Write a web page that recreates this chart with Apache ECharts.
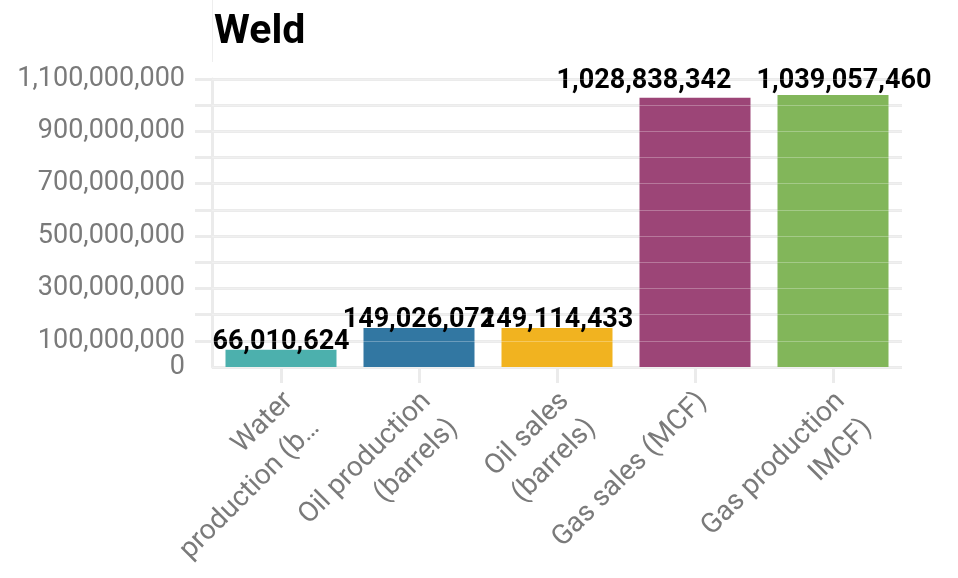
<!DOCTYPE html>
<html>
<head>
<meta charset="utf-8">
<script src="https://cdn.jsdelivr.net/npm/echarts@6/dist/echarts.min.js"></script>
<style>
html,body{margin:0;padding:0;background:#fff;}
#main{width:958px;height:578px;}
</style>
</head>
<body>
<div id="main"></div>
<script>
const title = 'Weld';
const categories = ['Water\nproduction (b…', 'Oil production\n(barrels)', 'Oil sales\n(barrels)', 'Gas sales (MCF)', 'Gas production\nIMCF)'];
const values = [66010624, 149026072, 149114433, 1028838342, 1039057460];
const palette = ['#4cb0ad', '#3277a2', '#f1b320', '#9c4577', '#82b65a'];
const yMin = 0, yMax = 1100000000, yStep = 100000000;

const FONT = 'Roboto';
const fmt = v => Math.round(v).toLocaleString('en-US');
// label nudges (as in the reference, where top labels were moved to avoid collisions)
const labelNudges = [[0, 0], [0, 0], [0, 0], [-51, -9], [11, -6]];

const yLabelStyle = {
  margin: 27,
  fontFamily: FONT,
  fontSize: 27,
  color: '#7a7a7a'
};

const chart = echarts.init(document.getElementById('main'), null, {renderer: 'canvas'});
chart.setOption({
  animation: false,
  backgroundColor: '#fff',
  title: {
    text: title,
    left: 209,
    top: 7,
    textStyle: {fontFamily: FONT, fontWeight: 'bold', fontSize: 41, color: '#000'}
  },
  graphic: [{
    type: 'line',
    shape: {x1: 212.5, y1: 0, x2: 212.5, y2: 62},
    style: {stroke: '#eeeeee', lineWidth: 1},
    silent: true
  }],
  grid: {left: 212, right: 56, top: 79, bottom: 211, containLabel: false, outerBoundsMode: 'none'},
  xAxis: {
    type: 'category',
    data: categories,
    axisLine: {show: false},
    axisTick: {show: true, alignWithLabel: true, length: 16, lineStyle: {color: '#ebebeb', width: 3}},
    axisLabel: {
      rotate: 45,
      interval: 0,
      margin: 11,
      align: 'right',
      verticalAlign: 'top',
      padding: [0, 8, 0, 0],
      fontFamily: FONT,
      fontSize: 28,
      lineHeight: 38,
      color: '#7a7a7a'
    }
  },
  yAxis: [{
    type: 'value',
    min: yMin, max: yMax, interval: yStep,
    axisLine: {show: true, lineStyle: {color: '#ebebeb', width: 3}},
    axisTick: {show: true, length: 17, lineStyle: {color: '#ebebeb', width: 3}},
    splitLine: {show: true, lineStyle: {color: '#ebebeb', width: 3}},
    axisLabel: Object.assign({}, yLabelStyle, {
      showMinLabel: false,
      formatter: v => (v !== 0 && Math.round(v / yStep) % 2 === 1) ? fmt(v) : ''
    })
  }, {
    type: 'value',
    min: yMin, max: yMax, interval: yStep,
    position: 'left',
    z: 5,
    axisLine: {show: false},
    axisTick: {show: false},
    axisLabel: {show: false},
    splitLine: {show: true, lineStyle: {color: 'rgba(255,255,255,0.28)', width: 1}}
  }, {
    type: 'value',
    min: yMin, max: yMax, interval: yStep,
    position: 'left',
    axisLine: {show: false},
    axisTick: {show: false},
    splitLine: {show: false},
    axisLabel: Object.assign({}, yLabelStyle, {
      showMinLabel: true,
      showMaxLabel: false,
      formatter: v => (v === 0 ? fmt(v) : '')
    })
  }],
  series: [{
    type: 'bar',
    yAxisIndex: 0,
    barWidth: 111,
    data: values.map((v, i) => ({value: v, itemStyle: {color: palette[i]}})),
    label: {
      show: true,
      position: 'top',
      distance: -6,
      formatter: p => fmt(p.value),
      fontFamily: FONT,
      fontWeight: 'bold',
      fontSize: 27,
      color: '#000'
    },
    labelLayout: p => ({dx: labelNudges[p.dataIndex][0], dy: labelNudges[p.dataIndex][1], hideOverlap: false})
  }]
});
</script>
</body>
</html>
